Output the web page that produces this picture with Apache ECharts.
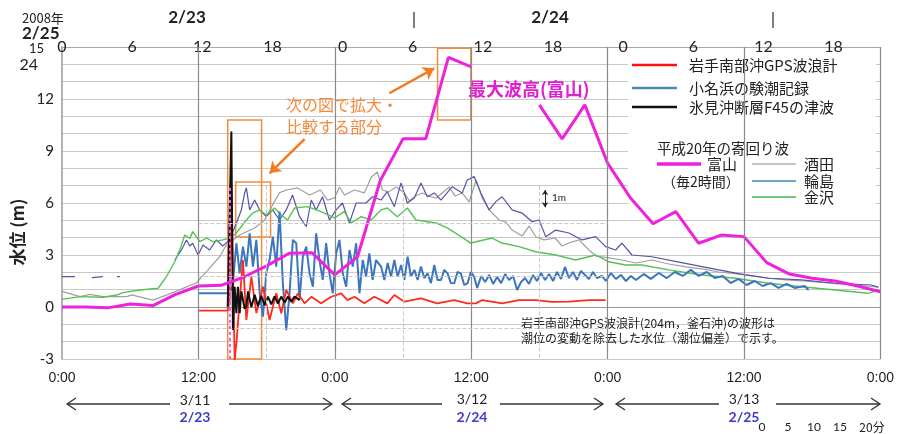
<!DOCTYPE html>
<html><head><meta charset="utf-8">
<script src="https://cdn.jsdelivr.net/npm/echarts@6/dist/echarts.min.js"></script>
<style>html,body{margin:0;padding:0;background:#fff}#c{width:897px;height:434px}</style>
</head><body><div id="c"></div>
<script>
// ---- DATA (hours from 3/11 0:00 [= 2/23 0:00], water level m) ----
const bottomTickHours = [0, 12, 24, 36, 48, 60, 72];
const topTickHours = [0, 6, 12, 18, 24, 30, 36, 42, 48, 54, 60, 66];
const dayLabels = ['3/11', '3/12', '3/13'];
const dayLabels2008 = ['2/23', '2/24', '2/25'];

const toyamaHours = [0,2,4,6,8,10,12,14,16,18,20,22,24,26,28,30,32,34,36,38,40,42,44,46,48,50,52,54,56,58,60,62,64,66,68,70,72];
const toyamaValues = [0.0,0.0,-0.05,0.17,0.08,0.73,1.21,1.25,1.73,2.37,3.1,3.13,1.85,2.9,7.3,9.7,9.7,14.4,13.85,null,null,11.66,9.7,11.66,8.3,6.3,4.8,5.5,3.68,4.15,4.06,2.56,1.9,1.66,1.5,1.21,0.88];

const sakata = [[0,0.9],[1.58,0.6],[2.46,0.73],[3.6,0.6],[5.71,0.6],[6.12,0.7],[7.99,0.4],[9.75,0.83],[11.83,1.4],[12.71,2.04],[13.87,2.9],[14.46,3.58],[15.63,4.15],[16.95,4.56],[17.82,5.0],[18.53,5.89],[19.14,6.6],[19.76,6.75],[20.72,6.87],[21.78,6.46],[22.74,6.75],[23.36,6.17],[23.97,6.29],[24.41,6.92],[24.85,6.46],[25.73,6.75],[26.6,6.58],[27.22,7.5],[27.75,7.79],[28.19,6.75],[28.71,6.64],[29.41,6.92],[30.12,6.58],[30.56,6.12],[31.08,6.4],[31.7,6.58],[32.49,6.35],[32.93,6.29],[33.45,6.58],[34.07,6.92],[34.59,6.4],[35.21,6.58],[35.82,6.06],[36.44,7.33],[36.97,6.29],[37.58,5.6],[38.46,5.02],[39.07,4.9],[39.6,4.44],[40.48,4.1],[41.09,4.67],[41.71,4.04],[42.41,3.87],[43.38,3.98],[43.99,3.52],[44.6,3.69],[45.48,3.87],[46.36,3.29],[46.97,2.94],[48.12,2.83],[49.26,2.71],[50.49,2.54],[51.89,2.71],[53.38,2.48],[54.88,2.31],[56.46,2.19],[57.77,2.02],[60.15,1.85],[62.17,1.67],[63.66,1.56],[65.24,1.5],[66.56,1.44],[68.31,1.33],[69.45,1.27],[70.77,1.21],[71.82,1.15]];

const wajima = [[0,1.75],[1.14,1.75],null,[2.63,1.7],[3.6,1.75],null,[4.83,1.75],[5.09,1.75],null,[9.92,2.71],[10.51,3.29],[10.95,3.87],[11.24,3.52],[11.5,3.68],[11.97,3.0],[12.41,3.58],[12.99,3.29],[13.58,3.87],[14.14,3.52],[14.75,3.87],[15.34,4.85],[15.78,5.6],[16.07,6.58],[16.22,6.87],[16.51,5.6],[16.95,6.17],[17.39,5.6],[17.97,5.21],[18.53,5.6],[19.14,5.02],[19.73,5.6],[20.28,6.46],[20.9,5.21],[21.49,4.63],[21.93,6.17],[22.36,5.6],[22.92,6.36],[23.53,5.02],[24.12,5.6],[24.67,6.0],[25.29,4.85],[25.88,6.0],[26.75,6.0],[27.31,6.36],[28.07,6.17],[28.62,6.65],[29.24,5.79],[29.83,7.16],[30.38,6.0],[30.99,6.29],[31.58,7.16],[32.14,6.36],[32.75,6.58],[33.34,6.17],[34.33,6.94],[35.21,6.58],[35.65,7.33],[36.26,7.52],[36.85,6.58],[37.58,5.6],[38.17,6.08],[38.72,6.36],[39.6,5.6],[40.48,5.42],[41.36,4.92],[41.97,5.02],[42.56,4.06],[43.44,4.44],[44.6,4.27],[45.75,3.87],[46.95,4.06],[47.83,3.48],[48.71,3.29],[49.26,3.69],[50.14,3.0],[51.89,2.9],[54.85,2.52],[57.77,2.14],[60.12,1.85],[62.17,1.66],[65.06,1.56],[68.02,1.37],[71.21,1.27],[71.82,1.15]];

const kanazawa = [[0,0.44],[1.58,0.6],[3.6,0.56],[4.8,0.69],[5.36,0.83],[6.85,0.98],[8.46,1.08],[9.19,1.75],[9.92,2.61],[10.36,3.29],[10.8,4.15],[11.24,3.96],[11.5,4.35],[12.12,3.77],[12.71,3.98],[13.26,3.77],[14.14,3.87],[14.75,3.98],[15.34,4.27],[16.22,5.02],[16.77,5.42],[17.39,5.6],[17.97,5.31],[18.7,5.71],[19.29,5.31],[19.84,5.02],[20.46,5.71],[21.6,5.79],[22.8,5.5],[23.97,5.14],[24.85,5.5],[25.44,4.85],[26.32,5.21],[27.19,5.02],[28.07,5.6],[28.62,5.71],[29.5,5.21],[30.38,5.71],[31.14,5.02],[32.9,4.85],[33.89,4.56],[35.1,4.06],[35.97,3.69],[37.84,3.98],[38.72,3.69],[40.21,3.48],[41.68,3.19],[43.44,3.0],[45.19,2.71],[46.95,3.0],[48.12,2.61],[49.58,2.42],[51.01,2.42],[53.38,2.14],[56.28,1.85],[59.24,1.66],[62.17,1.37],[65.06,1.17],[68.02,0.98],[70.94,0.79],[71.82,0.98]];

const gpsIwate = [[12.03,-0.21],[14.58,-0.21],[14.75,0.4],[14.9,6.56],[15.06,1.56],[15.19,-3.06],[15.37,-1.9],[15.63,0.4],[15.92,2.71],[16.22,-0.75],[16.66,1.75],[17.1,-0.35],[17.68,1.17],[18.26,-0.75],[18.85,0.79],[19.29,-0.36],[19.73,0.98],[20.31,0.21],[20.75,0.79],[21.34,0.21],[21.93,0.59],[22.8,0.21],[23.68,0.59],[24.56,0.79],[25.11,0.4],[25.73,0.59],[26.6,0.21],[27.48,0.59],[28.62,0.21],[29.24,0.69],[30.12,0.31],[31.58,0.5],[33.01,0.21],[34.51,0.4],[35.65,0.21],[36.41,0.21],[36.97,0.4],[38.72,0.21],[40.21,0.4],[41.68,0.4],[43.11,0.29],[44.6,0.31],[46.36,0.4],[47.83,0.4]];

const onahama = [[12.03,0.79],[14.66,0.79],[15.01,1.17],[15.34,3.68],[15.63,1.94],[15.92,3.48],[16.22,2.33],[16.51,4.25],[16.8,2.33],[17.1,3.87],[17.39,0.79],[17.68,-0.56],[17.97,1.96],[18.26,2.71],[18.55,4.06],[18.85,2.33],[19.14,5.5],[19.43,1.37],[19.73,-1.33],[20.02,0.79],[20.31,3.87],[20.61,3.68],[20.9,0.4],[21.19,2.9],[21.49,3.48],[21.78,1.94],[22.07,1.17],[22.36,4.25],[22.65,2.71],[22.94,1.56],[23.24,3.68],[23.53,1.94],[23.82,0.79],[24.12,3.1],[24.41,3.87],[24.7,1.94],[25.0,1.17],[25.29,3.29],[25.58,2.33],[25.88,3.68],[26.17,0.79],[26.46,2.71],[26.75,1.75],[27.04,3.1],[27.33,1.56],[27.63,2.71],[28.07,2.33],[28.36,1.56],[28.65,2.54],[28.95,1.75],[29.24,2.71],[29.53,1.75],[29.83,2.42],[30.12,1.56],[30.41,2.9],[30.7,1.75],[31.0,2.14],[31.29,1.56],[31.58,2.33],[31.87,1.67],[32.16,1.94],[32.46,1.38],[32.75,2.42],[33.04,1.56],[33.34,1.56],[33.63,2.14],[33.92,1.94],[34.21,1.38],[34.51,1.37],[34.8,2.02],[35.09,1.94],[35.39,1.27],[35.68,1.37],[35.97,2.02],[36.26,1.75],[36.53,1.1],[36.88,1.79],[37.23,1.44],[37.58,1.85],[37.93,1.33],[38.28,1.73],[38.63,1.38],[38.99,1.9],[39.34,1.56],[39.69,1.79],[40.04,0.98],[40.39,1.44],[40.74,1.67],[41.09,1.33],[41.44,1.85],[41.79,1.5],[42.15,1.96],[42.5,1.56],[42.85,1.9],[43.2,1.5],[43.55,2.02],[43.9,1.62],[44.25,2.31],[44.6,1.67],[44.96,2.02],[45.31,1.56],[45.66,2.08],[46.01,1.85],[46.36,1.62],[46.71,2.02],[47.06,1.67],[47.5,1.79],[47.85,1.5],[48.29,1.96],[48.73,1.62],[49.17,1.85],[49.61,1.5],[50.05,1.79],[50.49,1.56],[51.19,1.9],[51.8,1.62],[52.51,1.96],[53.21,1.67],[53.91,2.02],[54.61,1.79],[55.32,2.14],[56.02,1.79],[56.72,2.02],[57.42,1.67],[58.13,1.79],[58.83,1.38],[59.53,1.62],[60.23,1.27],[60.94,1.5],[61.64,1.21],[62.34,1.38],[63.04,1.1],[63.75,1.33],[64.45,1.1],[65.33,1.21],[65.68,0.98]];

const himiF45 = [[14.58,0.02],[14.75,0.02],[14.9,10.12],[15.04,-1.33],[15.19,1.17],[15.34,-0.36],[15.48,1.17],[15.63,-0.36],[15.78,0.9],[15.92,0.98],[16.07,-0.1],[16.22,0.02],[16.36,0.9],[16.51,0.79],[16.66,0.0],[16.8,0.02],[16.95,0.7],[17.1,0.59],[17.24,0.05],[17.39,-0.06],[17.53,0.65],[17.68,0.69],[17.82,0.1],[17.97,0.12],[18.12,0.6],[18.26,0.58],[18.41,0.15],[18.55,0.17],[18.7,0.62],[18.85,0.63],[19.0,0.2],[19.14,0.23],[19.29,0.6],[19.43,0.58],[19.58,0.25],[19.73,0.29],[19.88,0.6],[20.02,0.58],[20.17,0.3],[20.31,0.35],[20.46,0.6],[20.61,0.63],[20.9,0.4]];

// annotation geometry in data units (hours, m)
const quakeHour = 14.77;
const zoomBoxes = [[[14.58,10.79],[17.56,-3]], [[15.28,7.21],[18.35,4.04]], [[33.04,14.93],[35.97,10.79]]];
const orangeArrows = [[[21.34,9.68],[18.26,7.71]], [[28.8,12.33],[32.75,13.77]]];

// ---- CHART ----
const CJK = "'Noto Sans CJK JP', 'Noto Sans', sans-serif";
const NUM = "Lato, 'Liberation Sans', sans-serif";
const chart = echarts.init(document.getElementById('c'), null, {renderer: 'canvas'});

const toyama = toyamaHours.map((h, i) => [h, toyamaValues[i]]);
const lineS = (name, data, color, width, z) => ({
  name, type: 'line', data, showSymbol: false, symbol: 'none', connectNulls: false,
  lineStyle: {color, width}, itemStyle: {color}, z, animation: false, silent: true
});

const mkTxt = (text, x, y, o = {}) => ({
  type: 'text', x, y, z: o.z || 5, rotation: o.rotation || 0,
  style: {text, fill: o.fill || '#222', font: o.font || ('14px ' + CJK), align: o.align || 'left', verticalAlign: o.va || 'middle'}
});
const mkLine = (x1, y1, x2, y2, stroke, lw, z) => ({type: 'line', z: z || 5, shape: {x1, y1, x2, y2}, style: {stroke, lineWidth: lw}});
const arrowPair = (xl, xm1, xm2, xr, y) => [
  mkLine(xl, y, xm1, y, '#333', 1.3), {type: 'polyline', z: 5, shape: {points: [[xl + 9, y - 6], [xl, y], [xl + 9, y + 6]]}, style: {stroke: '#333', lineWidth: 1.3, fill: null}},
  mkLine(xm2, y, xr, y, '#333', 1.3), {type: 'polyline', z: 5, shape: {points: [[xr - 9, y - 6], [xr, y], [xr - 9, y + 6]]}, style: {stroke: '#333', lineWidth: 1.3, fill: null}}
];

const graphics = [
  // legend background
  {type: 'rect', z: 1, shape: {x: 628, y: 54, width: 248, height: 152}, style: {fill: '#fff'}},
  mkLine(632, 65, 677, 65, '#FF1010', 2.5), mkTxt('岩手南部沖GPS波浪計', 689, 65, {font: '15px ' + CJK}),
  mkLine(632, 88, 677, 88, '#4A8DB5', 2.5), mkTxt('小名浜の験潮記録', 689, 88, {font: '15px ' + CJK}),
  mkLine(632, 107, 677, 107, '#111', 2.5), mkTxt('氷見沖断層F45の津波', 689, 107, {font: '15px ' + CJK}),
  mkTxt('平成20年の寄回り波', 657, 148, {font: '14.5px ' + CJK}),
  mkLine(657, 164, 701, 164, '#EE22DD', 3.5), mkTxt('富山', 707, 164, {font: '15px ' + CJK}),
  mkTxt('（毎2時間）', 662, 182, {font: '14px ' + CJK}),
  mkLine(752, 164, 796, 164, '#8C8C8C', 1.2), mkTxt('酒田', 804, 164, {font: '15px ' + CJK}),
  mkLine(752, 181, 796, 181, '#3C8CB4', 1.5), mkTxt('輪島', 804, 181, {font: '15px ' + CJK}),
  mkLine(752, 197, 796, 197, '#3CB450', 1.5), mkTxt('金沢', 804, 197, {font: '15px ' + CJK}),
  // top labels
  mkTxt('2008年', 22, 18, {font: '13px ' + CJK}),
  mkTxt('2/25', 22, 34, {font: 'bold 17px ' + NUM}),
  mkTxt('2/23', 187, 18, {font: 'bold 17px ' + NUM, align: 'center'}),
  mkTxt('2/24', 550, 18, {font: 'bold 17px ' + NUM, align: 'center'}),
  mkLine(414, 12, 414, 28, '#555', 1.5), mkLine(773, 12, 773, 28, '#555', 1.5),
  // extra y labels
  mkTxt('15', 44, 49, {font: '13px ' + NUM, align: 'right'}),
  mkTxt('24', 38, 65, {font: '16px ' + NUM, align: 'right'}),
  // y axis name
  mkTxt('水位 (m)', 18, 232, {font: 'bold 17px ' + CJK, align: 'center', rotation: Math.PI / 2}),
  // annotations
  mkTxt('最大波高(富山)', 468, 89, {font: 'bold 18px ' + CJK, fill: '#E020D0'}),
  mkTxt('次の図で拡大・', 286, 105, {font: '16px ' + CJK, fill: '#F5893A'}),
  mkTxt('比較する部分', 286, 127, {font: '16px ' + CJK, fill: '#F5893A'}),
  mkTxt('岩手南部沖GPS波浪計(204m，釜石沖)の波形は', 521, 323, {font: '12px ' + CJK}),
  mkTxt('潮位の変動を除去した水位（潮位偏差）で示す。', 521, 338, {font: '12px ' + CJK}),
  mkTxt('1m', 552, 198, {font: '10px ' + NUM}),
  // bottom day labels
  mkTxt(dayLabels[0], 195, 400, {font: '14px ' + NUM, align: 'center'}),
  mkTxt(dayLabels[1], 472, 399, {font: '14px ' + NUM, align: 'center'}),
  mkTxt(dayLabels[2], 744, 399, {font: '14px ' + NUM, align: 'center'}),
  mkTxt(dayLabels2008[0], 195, 417, {font: 'bold 14px ' + NUM, align: 'center', fill: '#3B3BD0'}),
  mkTxt(dayLabels2008[1], 472, 417, {font: 'bold 14px ' + NUM, align: 'center', fill: '#3B3BD0'}),
  mkTxt(dayLabels2008[2], 744, 417, {font: 'bold 14px ' + NUM, align: 'center', fill: '#3B3BD0'}),
  ...arrowPair(67, 170, 229, 332, 404),
  ...arrowPair(342, 442, 500, 603, 404),
  ...arrowPair(616, 719, 776, 880, 404),
  mkTxt('0', 762, 427, {font: '12px ' + NUM, align: 'center'}),
  mkTxt('5', 788, 427, {font: '12px ' + NUM, align: 'center'}),
  mkTxt('10', 814, 427, {font: '12px ' + NUM, align: 'center'}),
  mkTxt('15', 840, 427, {font: '12px ' + NUM, align: 'center'}),
  mkTxt('20分', 872, 427, {font: '12px ' + CJK, align: 'center'})
];

const gridSeries = {
  type: 'line', data: [], z: 1.5, silent: true, animation: false,
  markLine: {
    silent: true, symbol: 'none', label: {show: false}, animation: false,
    data: [
      ...bottomTickHours.slice(1).map(h => ({xAxis: h, lineStyle: {color: '#8A8A8A', width: 1.2, type: 'solid'}})),
      ...[18, 30, 42].map(h => [{coord: [h, 7], lineStyle: {color: '#C8C8C8', width: 1, type: 'dashed'}}, {coord: [h, -3]}]),
      ...[4.85, 1.8, -1.2].map(v => [{coord: [12, v], lineStyle: {color: '#C8C8C8', width: 1, type: 'dashed'}}, {coord: [48, v]}])
    ]
  }
};

const annoSeries = {
  type: 'line', data: [], z: 6, silent: true, animation: false,
  markArea: {
    silent: true, label: {show: false},
    itemStyle: {color: 'rgba(0,0,0,0)', borderColor: '#F08C3C', borderWidth: 1.5},
    data: zoomBoxes.map(b => [{coord: b[0]}, {coord: b[1]}])
  },
  markLine: {
    silent: true, label: {show: false}, animation: false,
    data: [
      ...orangeArrows.map(a => [{coord: a[0], symbol: 'none', lineStyle: {color: '#F47A20', width: 2.5, type: 'solid'}}, {coord: a[1], symbol: 'arrow', symbolSize: 11}]),
      [{coord: [quakeHour, 6.87], symbol: 'none', lineStyle: {color: '#F060F0', width: 2, type: [3, 3]}}, {coord: [quakeHour, -3], symbol: 'none'}],
      [{coord: [42.5, 6.75], symbol: 'arrow', symbolSize: 5, lineStyle: {color: '#222', width: 1, type: 'solid'}}, {coord: [42.5, 5.75], symbol: 'arrow', symbolSize: 5}]
    ]
  }
};

chart.setOption({
  backgroundColor: '#fff',
  animation: false,
  grid: {left: 62, right: 15, top: 47, bottom: 75, containLabel: false},
  xAxis: [
    {type: 'value', min: 0, max: 72, interval: 12, position: 'bottom',
     axisLine: {show: true, lineStyle: {color: '#999', width: 1}},
     axisTick: {show: true, length: 4, lineStyle: {color: '#999'}},
     splitLine: {show: false},
     axisLabel: {margin: 12, color: '#222', fontSize: 14, fontFamily: "'Liberation Sans', sans-serif",
       formatter: v => (v % 24 === 0 ? '0:00' : (v % 12 === 0 ? '12:00' : ''))}},
    {type: 'value', min: 0, max: 70, interval: 6, position: 'top',
     axisLine: {show: true, lineStyle: {color: '#A8A8A8', width: 1.2}},
     axisTick: {show: false}, splitLine: {show: false},
     axisLabel: {margin: 0, verticalAlign: 'middle', color: '#222', fontSize: 16, fontFamily: NUM,
       showMaxLabel: false, formatter: v => (topTickHours.indexOf(v) >= 0 ? String(v % 24) : '')}}
  ],
  yAxis: {type: 'value', min: -3, max: 15, interval: 1,
    axisLine: {show: true, lineStyle: {color: '#999', width: 1.5}},
    axisTick: {show: false},
    splitLine: {show: true, lineStyle: {color: '#C8C8C8', width: 1}},
    axisLabel: {margin: 8, color: '#222', fontSize: 15, fontFamily: NUM,
      formatter: v => (v % 3 === 0 && v < 15 ? String(v) : '')}},
  graphic: graphics,
  series: [
    gridSeries,
    lineS('酒田', sakata, '#A0A0A0', 1.2, 3),
    lineS('輪島', wajima, '#5454A8', 1.2, 3),
    lineS('金沢', kanazawa, '#55C255', 1.4, 3),
    lineS('小名浜の験潮記録', onahama, '#3D76BE', 2, 3),
    lineS('岩手南部沖GPS波浪計', gpsIwate, '#FF2A1A', 1.8, 3),
    lineS('氷見沖断層F45の津波', himiF45, '#111111', 2, 3),
    lineS('富山', toyama, '#EE22DD', 3, 4),
    annoSeries
  ]
});
</script>
</body></html>
